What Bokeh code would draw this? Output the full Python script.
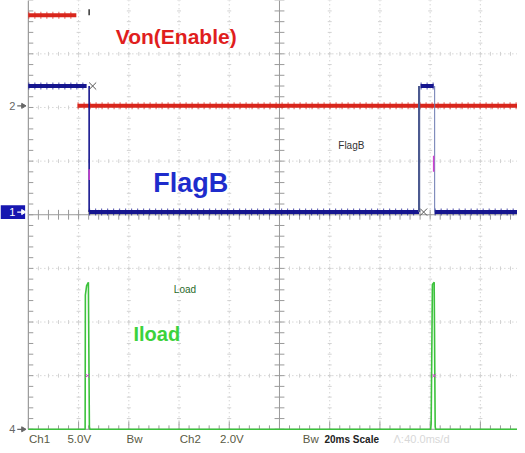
import numpy as np
from bokeh.plotting import figure
from bokeh.models import Range1d
from bokeh.embed import file_html
from bokeh.resources import INLINE
from bokeh.core.properties import value

# ---------------- data (time in ms, amplitude in screen divisions) ----------------
MS_PER_DIV = 20.0
T_END = 196.0

# Ch2 : Von(Enable)  (red)
ch2_ground = 6.03
von_high_level = 1.69
von_high_t = [0.0, 19.1]
von_low_t = [19.6, T_END]

# Ch1 : FlagB  (blue)
ch1_ground = 4.05
flag_high_level = 2.35
flag_high_t = [[0.0, 23.2], [156.2, 161.4]]
flag_low_t = [[24.2, 155.6], [161.8, T_END]]
flag_edges_t = [24.2, 155.6, 161.8]

# Ch4 : Iload  (green)
ch4_ground = 0.0
load_t = [0.0, 22.6, 22.7, 23.2, 23.9, 24.3, 24.5, 160.2, 160.4, 160.9, 161.6, 162.0, 162.2, T_END]
load_v = [0.0, 0.0, 2.50, 2.68, 2.74, 0.05, 0.0, 0.0, 0.10, 2.70, 2.74, 0.05, 0.0, 0.0]

# cursor crosses / glitch marks
cursor_t = [25.6, 157.4]
cursor_y = [ch1_ground + flag_high_level, ch1_ground]
glitch_t = [24.2, 161.4]
glitch_lo = [4.65, 4.80]
glitch_hi = [4.85, 5.10]
ch4_mark_t = [23.5, 161.6]
ch4_mark_y = [1.0, 1.0]

# labels
channel_names = ["2", "1", "4"]
channel_grounds = [ch2_ground, ch1_ground, ch4_ground]
bottom_labels = ["Ch1", "5.0V", "Bw", "Ch2", "2.0V", "Bw"]
bottom_labels_px = [29, 68, 128, 182, 223, 307]
scale_label = "20ms  Scale"
faint_labels = ["Λ:", "40.0ms/d"]
faint_labels_px = [399, 410]

# ---------------- layout helpers (reference pixel -> data) ----------------
X0_PX, DIV_W_PX = 28.3, 51.0
Y0_PX, DIV_H_PX = 436.5, 54.6
def px_t(px):
    return (px - X0_PX) / DIV_W_PX * MS_PER_DIV
def py_y(py):
    return (Y0_PX - py) / DIV_H_PX
PX_T = MS_PER_DIV / DIV_W_PX   # ms per pixel
PX_Y = 1.0 / DIV_H_PX          # div per pixel

p = figure(width=517, height=445, output_backend="svg", toolbar_location=None,
           x_range=Range1d(px_t(0), px_t(525)), y_range=Range1d(py_y(453), py_y(0)),
           x_axis_location=None, y_axis_location=None, min_border=0)
p.outline_line_color = None
p.xgrid.visible = False
p.ygrid.visible = False
p.background_fill_color = "white"

# ---------------- graticule ----------------
div_t = np.arange(0, 10) * MS_PER_DIV
minor_t = np.arange(0, 50) * MS_PER_DIV / 5
minor_y = np.arange(0, 41) * 0.2
dot_col = "#c4c4c4"
for k in range(1, 10):
    if k == 5:
        continue
    p.line([div_t[k], div_t[k]], [0, 8], line_color=dot_col, line_dash="1 3", line_width=1)
    p.segment(x0=np.full(minor_y.size, div_t[k] - 2 * PX_T), x1=np.full(minor_y.size, div_t[k] + 2 * PX_T),
              y0=minor_y, y1=minor_y, line_color="#d2d2d2", line_width=1)
for k in range(1, 8):
    if k == 4:
        continue
    p.line([0, T_END], [k, k], line_color=dot_col, line_dash="1 3", line_width=1)
    p.segment(x0=minor_t, x1=minor_t, y0=np.full(minor_t.size, k - 2 * PX_Y),
              y1=np.full(minor_t.size, k + 2 * PX_Y), line_color="#d2d2d2", line_width=1)

axis_col = "#9a9a9a"
# centre axes
p.line([5 * MS_PER_DIV] * 2, [0, 8], line_color=axis_col, line_width=1)
p.segment(x0=np.full(minor_y.size, 5 * MS_PER_DIV - 5 * PX_T), x1=np.full(minor_y.size, 5 * MS_PER_DIV + 5 * PX_T),
          y0=minor_y, y1=minor_y, line_color=axis_col, line_width=1)
p.line([0, T_END], [4, 4], line_color=axis_col, line_width=1)
p.segment(x0=minor_t, x1=minor_t, y0=np.full(minor_t.size, 4 - 5 * PX_Y), y1=np.full(minor_t.size, 4 + 5 * PX_Y),
          line_color=axis_col, line_width=1)
# left edge
p.line([0, 0], [0, 8], line_color=axis_col, line_width=1.2)
p.segment(x0=np.zeros(minor_y.size), x1=np.full(minor_y.size, 5 * PX_T), y0=minor_y, y1=minor_y,
          line_color=axis_col, line_width=1)
# bottom edge
p.line([0, T_END], [0, 0], line_color=axis_col, line_width=1)
tick_len = np.where(np.arange(minor_t.size) % 5 == 0, 8, 4) * PX_Y
p.segment(x0=minor_t, x1=minor_t, y0=np.zeros(minor_t.size), y1=tick_len, line_color=axis_col, line_width=1)

# ---------------- traces ----------------
red = "#d9261c"
blue = "#16168f"
green = "#3cc23c"
magenta = "#d040d0"

def trace(xs, ys, color):
    p.multi_line(xs=xs, ys=ys, line_color=color, line_width=4.0)
    # noise fringe of the scope trace
    p.multi_line(xs=xs, ys=ys, line_color=color, line_width=7.0, line_dash="1 5", line_alpha=0.75)

trace([von_high_t, von_low_t], [[ch2_ground + von_high_level] * 2, [ch2_ground] * 2], red)
trace(flag_high_t, [[ch1_ground + flag_high_level] * 2] * len(flag_high_t), blue)
trace(flag_low_t, [[ch1_ground] * 2] * len(flag_low_t), blue)
p.segment(x0=flag_edges_t, x1=flag_edges_t, y0=[ch1_ground] * 3,
          y1=[ch1_ground + flag_high_level] * 3,
          line_color=[blue, "#4c5a90", "#6a78b0"], line_width=[1.6, 2.2, 1.0])

p.line(load_t, [ch4_ground + v for v in load_v], line_color=green, line_width=1.6)

p.segment(x0=glitch_t, x1=glitch_t, y0=glitch_lo, y1=glitch_hi, line_color=magenta, line_width=1.5)
p.scatter(ch4_mark_t, ch4_mark_y, marker="x", size=5, line_color=magenta, line_width=1)
p.scatter(cursor_t, cursor_y, marker="x", size=10, line_color="#555555", line_width=1)
# trigger mark at top
p.segment(x0=[flag_edges_t[0]], x1=[flag_edges_t[0]], y0=[py_y(15)], y1=[py_y(9)], line_color="#333333", line_width=1.5)

# ---------------- channel markers ----------------
p.quad(left=[px_t(0)], right=[px_t(25)], bottom=[ch1_ground - 7 * PX_Y], top=[ch1_ground + 7 * PX_Y],
       fill_color="#1616b0", line_color=None)
mk_col = ["#666666", "white", "#666666"]
p.text(x=[px_t(9)] * 3, y=channel_grounds, text=channel_names, text_color=mk_col,
       text_font=value("Liberation Sans"), text_font_size="11px", text_baseline="middle", text_align="left")
p.segment(x0=[px_t(17)] * 3, x1=[px_t(22)] * 3, y0=channel_grounds, y1=channel_grounds,
          line_color=mk_col, line_width=1.2)
p.scatter(x=[px_t(23)] * 3, y=channel_grounds, marker="triangle", angle=-np.pi / 2, size=5,
          fill_color=mk_col, line_color=mk_col)

# ---------------- big annotations ----------------
def label(txt, px, py, color, size, style="bold"):
    p.text(x=[px_t(px)], y=[py_y(py)], text=[txt], text_color=color, text_font=value("Liberation Sans"),
           text_font_size=size, text_font_style=style, text_baseline="middle", text_align="left")

label("Von(Enable)", 117, 37, "#e01e1e", "21px")
label("FlagB", 155, 186, "#1e2ccc", "27px")
label("Iload", 135, 340, "#3cd23c", "20px")
label("FlagB", 343, 148, "#333333", "10px", "normal")
label("Load", 176, 294, "#2a6a2a", "10px", "normal")

# ---------------- bottom status line ----------------
p.text(x=[px_t(v) for v in bottom_labels_px], y=[py_y(446)] * len(bottom_labels), text=bottom_labels,
       text_color="#5a5a44", text_font=value("Liberation Sans"), text_font_size="11.5px",
       text_baseline="middle", text_align="left")
label(scale_label, 329, 447, "#222222", "10px")
p.text(x=[px_t(v) for v in faint_labels_px], y=[py_y(446)] * 2, text=faint_labels,
       text_color="#d8d8d8", text_font=value("Liberation Sans"), text_font_size="11px",
       text_baseline="middle", text_align="left")

open("out.html", "w").write(file_html(p, INLINE))
